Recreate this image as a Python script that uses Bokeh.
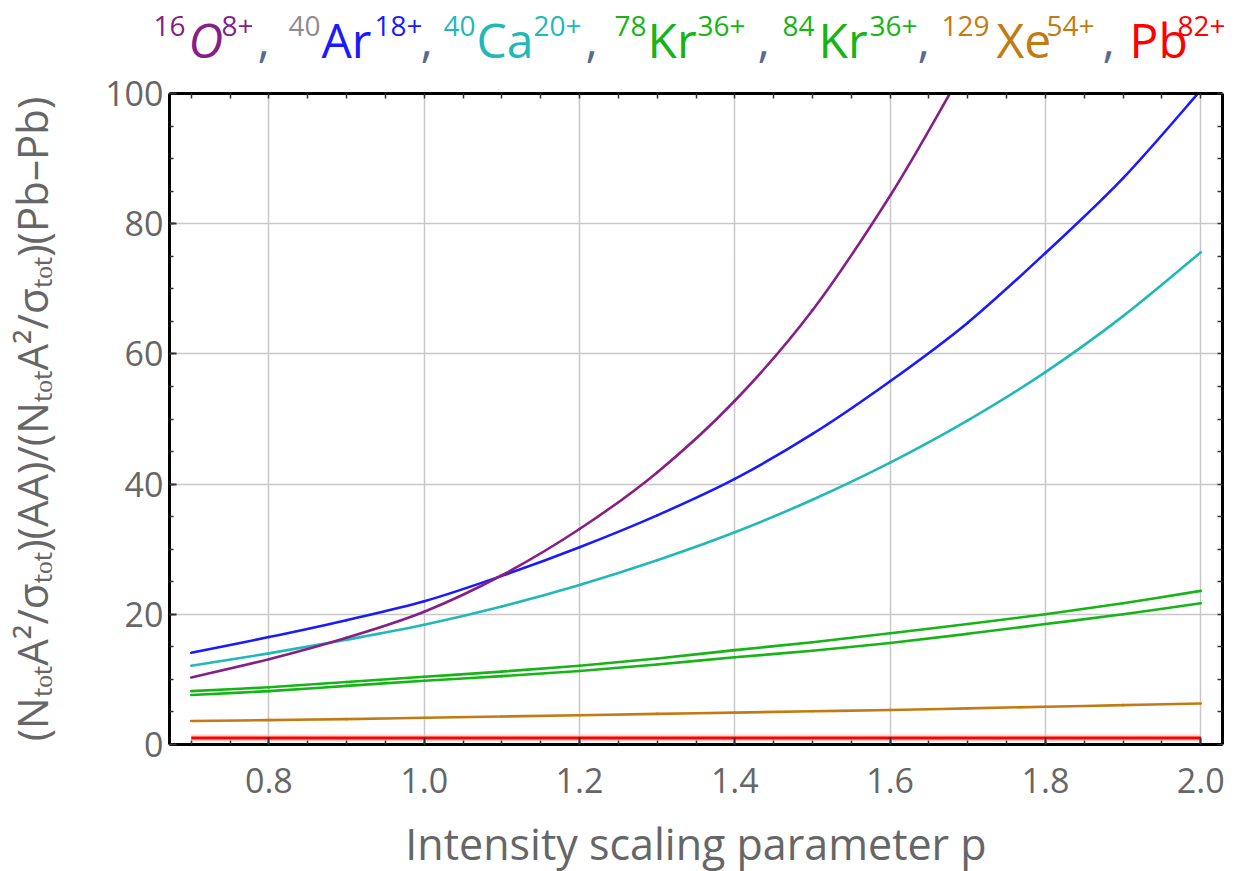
from bokeh.plotting import figure
from bokeh.layouts import column
from bokeh.models import FixedTicker, LinearAxis, Range1d, PrintfTickFormatter, ColumnDataSource
from bokeh.core.properties import value
from bokeh.embed import file_html
from bokeh.resources import INLINE

# ---------------- data ----------------
p_vals = [0.7, 0.8, 0.9, 1.0, 1.1, 1.2, 1.3, 1.4, 1.5, 1.6, 1.7, 1.8, 1.9, 2.0]
p_O = [0.7, 0.8, 0.9, 1.0, 1.1, 1.2, 1.3, 1.4, 1.5, 1.6, 1.677]
y_O = [10.3, 13.1, 16.4, 20.4, 26.0, 33.1, 41.8, 52.8, 66.7, 84.3, 100.0]
y_Ar = [14.1, 16.5, 19.1, 22.0, 25.9, 30.3, 35.2, 40.8, 47.7, 55.8, 64.8, 75.5, 87.0, 100.5]
y_Ca = [12.1, 14.0, 16.1, 18.4, 21.2, 24.5, 28.3, 32.6, 37.6, 43.3, 49.8, 57.2, 65.8, 75.6]
y_Kr78 = [8.2, 8.8, 9.6, 10.4, 11.2, 12.1, 13.2, 14.5, 15.7, 17.1, 18.5, 20.0, 21.7, 23.6]
y_Kr84 = [7.6, 8.2, 9.0, 9.8, 10.5, 11.3, 12.3, 13.4, 14.4, 15.6, 17.0, 18.5, 20.0, 21.7]
y_Xe = [3.6, 3.75, 3.9, 4.1, 4.3, 4.5, 4.7, 4.9, 5.1, 5.3, 5.55, 5.8, 6.05, 6.3]
y_Pb = [1.0] * 14

x_major = [0.8, 1.0, 1.2, 1.4, 1.6, 1.8, 2.0]
x_minor = [round(0.7 + 0.05 * i, 2) for i in range(27)]
y_major = [0, 20, 40, 60, 80, 100]
y_minor = list(range(0, 101, 5))

# title legend entries: mass number | element | charge
ions = ["16|O|8+", "40|Ar|18+", "40|Ca|20+", "78|Kr|36+", "84|Kr|36+", "129|Xe|54+", "|Pb|82+"]

# ---------------- styling ----------------
C_O, C_Ar, C_Ca, C_Kr, C_Xe, C_Pb = "#862086", "#1a1aff", "#22b8b8", "#16b416", "#c27b12", "#ff0000"
GREY = "#666666"
FONT = "Open Sans"
TITLE_H = 71

X0, X1 = 0.672, 2.028
L, R, T, B = 167, 1220, 93, 744

fig = figure(frame_width=R - L, frame_height=B - T, x_range=Range1d(X0, X1), y_range=Range1d(0, 100),
             output_backend="svg", toolbar_location=None,
             min_border_left=L, min_border_right=1234 - R, min_border_top=T - TITLE_H,
             min_border_bottom=871 - B)
fig.outline_line_color = None
fig.background_fill_color = "white"
fig.border_fill_color = "white"
fig.frame_align = False

xt = FixedTicker(ticks=x_major, minor_ticks=x_minor)
yt = FixedTicker(ticks=y_major, minor_ticks=y_minor)

fig.xgrid.ticker = xt
fig.ygrid.ticker = yt
for g in (fig.xgrid, fig.ygrid):
    g.grid_line_color = "#c8c8c8"
    g.grid_line_width = 1.5

def style_axis(ax):
    ax.axis_line_color = "black"
    ax.axis_line_width = 3
    ax.major_tick_in = 7
    ax.major_tick_out = 0
    ax.minor_tick_in = 4
    ax.minor_tick_out = 0
    ax.major_tick_line_color = "#333333"
    ax.minor_tick_line_color = "#333333"
    ax.major_tick_line_width = 2
    ax.minor_tick_line_width = 1.5
    ax.major_label_text_font = FONT
    ax.major_label_text_font_size = "34px"
    ax.major_label_text_color = GREY
    ax.axis_label_text_font = FONT
    ax.axis_label_text_color = GREY
    ax.axis_label_text_font_style = "normal"

xa = fig.xaxis[0]
ya = fig.yaxis[0]
xa.ticker = xt
ya.ticker = yt
style_axis(xa)
style_axis(ya)
xa.formatter = PrintfTickFormatter(format="%.1f")
xa.major_label_standoff = 23
xa.axis_label = "Intensity scaling parameter p"
xa.axis_label_text_font_size = "43px"
xa.axis_label_standoff = 18
ya.major_label_standoff = 6
ya.axis_label = "(N\u209c\u2092\u209cA\u00b2/\u03c3\u209c\u2092\u209c)(AA)/(N\u209c\u2092\u209cA\u00b2/\u03c3\u209c\u2092\u209c)(Pb\u2013Pb)"
ya.axis_label_text_font_size = "42px"
ya.axis_label_standoff = 42

# frame ticks on top and right (no labels: all ticks passed as minor ticks)
top = LinearAxis(ticker=FixedTicker(ticks=[], minor_ticks=x_minor))
right = LinearAxis(ticker=FixedTicker(ticks=[], minor_ticks=y_minor))
for ax in (top, right):
    ax.axis_line_color = "black"
    ax.axis_line_width = 3
    ax.minor_tick_in = 5
    ax.minor_tick_out = 0
    ax.minor_tick_line_color = "#333333"
    ax.minor_tick_line_width = 1.5
    ax.major_label_standoff = 0
fig.add_layout(top, "above")
fig.add_layout(right, "right")

# ---------------- curves (smooth Catmull-Rom rendering through the read points) ----------------
def curve(xs, ys, color, width=2.6):
    n = len(xs)
    x0, y0, x1, y1, cx0, cy0, cx1, cy1 = ([] for _ in range(8))
    for i in range(n - 1):
        ia, ib = max(i - 1, 0), min(i + 2, n - 1)
        x0.append(xs[i]); y0.append(ys[i]); x1.append(xs[i + 1]); y1.append(ys[i + 1])
        cx0.append(xs[i] + (xs[i + 1] - xs[ia]) / 6); cy0.append(ys[i] + (ys[i + 1] - ys[ia]) / 6)
        cx1.append(xs[i + 1] - (xs[ib] - xs[i]) / 6); cy1.append(ys[i + 1] - (ys[ib] - ys[i]) / 6)
    fig.bezier(x0=x0, y0=y0, x1=x1, y1=y1, cx0=cx0, cy0=cy0, cx1=cx1, cy1=cy1,
               line_color=color, line_width=width, line_cap="round")

fig.line(p_vals, y_Pb, line_color="#ffb0b0", line_width=7, line_alpha=0.6)
fig.line(p_vals, y_Pb, line_color=C_Pb, line_width=3)
curve(p_vals, y_Xe, C_Xe)
curve(p_vals, y_Kr84, C_Kr)
curve(p_vals, y_Kr78, C_Kr)
curve(p_vals, y_Ca, C_Ca)
curve(p_vals, y_Ar, C_Ar)
curve(p_O, y_O, C_O)

# ---------------- coloured title (legend) in its own strip ----------------
tfig = figure(width=1234, height=TITLE_H, x_range=Range1d(0, 1234), y_range=Range1d(TITLE_H, 0),
              output_backend="svg", toolbar_location=None, x_axis_type=None, y_axis_type=None,
              min_border_left=0, min_border_right=0, min_border_top=0, min_border_bottom=0)
tfig.outline_line_color = None
tfig.grid.visible = False
tfig.border_fill_color = "white"
tfig.frame_align = False

colors = [C_O, C_Ar, C_Ca, C_Kr, C_Kr, C_Xe, C_Pb]
mass_colors = [C_O, "#8c8c8c", C_Ca, C_Kr, C_Kr, C_Xe, C_Pb]
# left pixel positions of (mass, element, charge, comma) per entry
pos = [(153, 188, 221, 257), (288, 321, 374, 420), (443, 476, 533, 585),
       (614, 647, 697, 757), (782, 818, 869, 917), (941, 996, 1046, 1102),
       (None, 1129, 1177, None)]
SUP_Y, MAIN_Y = 25, 39
sup = dict(x=[], y=[], t=[], c=[])
main = dict(x=[], y=[], t=[], c=[])
ital = dict(x=[], y=[], t=[], c=[])
for ion, col, mcol, ps in zip(ions, colors, mass_colors, pos):
    mass, elem, charge = ion.split("|")
    if mass:
        for k, v in zip("xytc", (ps[0], SUP_Y, mass, mcol)):
            sup[k].append(v)
    tgt = ital if elem == "O" else main
    for k, v in zip("xytc", (ps[1], MAIN_Y, elem, col)):
        tgt[k].append(v)
    for k, v in zip("xytc", (ps[2], SUP_Y, charge, col)):
        sup[k].append(v)
    if ps[3] is not None:
        for k, v in zip("xytc", (ps[3], MAIN_Y, ",", "#5a6a88")):
            main[k].append(v)

for d, size, style in ((sup, "28px", "normal"), (main, "48px", "normal"), (ital, "48px", "italic")):
    tfig.text(x="x", y="y", text="t", text_color="c", source=ColumnDataSource(d),
              text_font=value(FONT), text_font_size=value(size), text_font_style=style,
              text_baseline="alphabetic", text_align="left")

layout = column(tfig, fig, spacing=0)
open("out.html", "w").write(file_html(layout, INLINE))
